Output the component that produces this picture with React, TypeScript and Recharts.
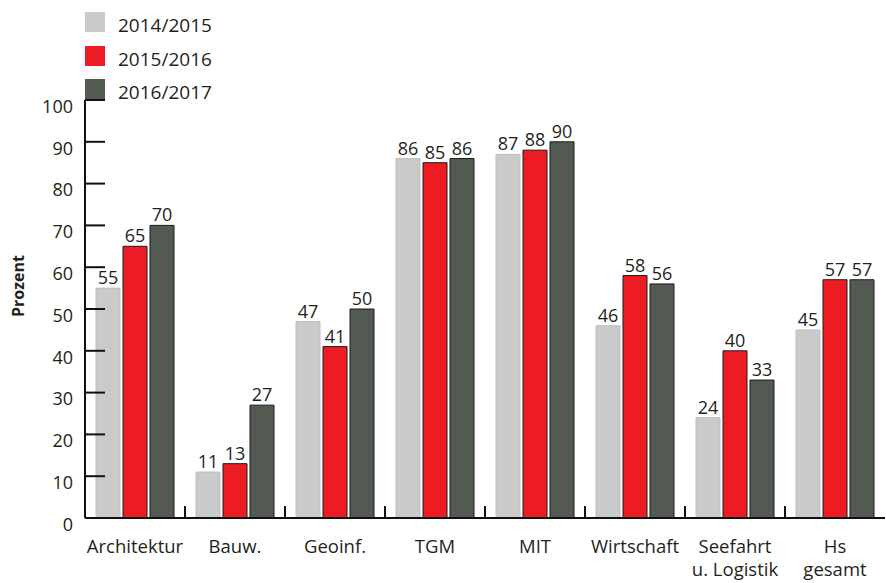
import React from 'react';
import { BarChart, Bar, XAxis, YAxis, LabelList } from 'recharts';

const categories = ['Architektur', 'Bauw.', 'Geoinf.', 'TGM', 'MIT', 'Wirtschaft', 'Seefahrt\nu. Logistik', 'Hs\ngesamt'];
const series1415 = [55, 11, 47, 86, 87, 46, 24, 45];
const series1516 = [65, 13, 41, 85, 88, 58, 40, 57];
const series1617 = [70, 27, 50, 86, 90, 56, 33, 57];
const seriesNames = ['2014/2015', '2015/2016', '2016/2017'];
const yTicks = [0, 10, 20, 30, 40, 50, 60, 70, 80, 90, 100];

const COLORS = ['#c9cac9', '#ed1c24', '#525a52'];
const STROKES = ['#bdbebd', '#1a1a1a', '#1a1a1a'];
const FONT = '"Open Sans", "Noto Sans", sans-serif';
const TEXT = '#231f20';

const data = categories.map((c, i) => ({
  name: c,
  s1: series1415[i],
  s2: series1516[i],
  s3: series1617[i],
}));

const W = 886;
const H = 583;
const M = { top: 100, right: 1, left: 0, bottom: 0 };
const YW = 85;
const XH = 65;
const plotW = W - M.left - M.right - YW;
const band = plotW / categories.length;

const YTick = (props: any) => {
  const { x, y, payload } = props;
  return (
    <g>
      <line x1={x + 12} x2={x + 32} y1={y} y2={y} stroke="#111" strokeWidth={2} />
      <text x={x} y={y + 8} textAnchor="end" dominantBaseline="middle" fontFamily={FONT} fontSize={18} fill={TEXT}>
        {payload.value}
      </text>
    </g>
  );
};

const XTick = (props: any) => {
  const { x, y, payload, index } = props;
  const lines = String(payload.value).split('\n');
  return (
    <g>
      {index < categories.length - 1 && (
        <line x1={x + band / 2} x2={x + band / 2} y1={y} y2={y - 12} stroke="#111" strokeWidth={2} />
      )}
      {lines.map((l, i) => (
        <text key={i} x={x} y={y + 35 + i * 23} textAnchor="middle" fontFamily={FONT} fontSize={18.5} fill={TEXT}>
          {l}
        </text>
      ))}
    </g>
  );
};

const labelStyle = { fontFamily: FONT, fontSize: 18, fill: TEXT };

export default function App() {
  const keys = ['s1', 's2', 's3'];
  return (
    <div style={{ position: 'absolute', left: 0, top: 0, width: W, height: H, background: '#fff' }}>
      <BarChart width={W} height={H} data={data} margin={M} barCategoryGap="11%" barGap={3}>
        <XAxis
          dataKey="name"
          interval={0}
          height={XH}
          tickSize={0}
          tickMargin={0}
          tick={<XTick />}
          axisLine={{ stroke: '#111', strokeWidth: 2 }}
          tickLine={false}
        />
        <YAxis
          width={YW}
          domain={[0, 100]}
          ticks={yTicks}
          interval={0}
          tickSize={0}
          tickMargin={12}
          tick={<YTick />}
          tickLine={false}
          axisLine={{ stroke: '#111', strokeWidth: 2 }}
          label={{
            content: () => (
              <text x={24} y={286} transform="rotate(-90 24 286)" textAnchor="middle" fontFamily={FONT} fontWeight="bold" fontSize={16} fill={TEXT}>
                Prozent
              </text>
            ),
          }}
        />
        {keys.map((k, i) => (
          <Bar key={k} dataKey={k} name={seriesNames[i]} fill={COLORS[i]} stroke={STROKES[i]} strokeWidth={1} isAnimationActive={false}>
            <LabelList dataKey={k} position="top" offset={4} style={labelStyle} />
          </Bar>
        ))}
      </BarChart>
      <div style={{ position: 'absolute', left: 85, top: 12, fontFamily: FONT, fontSize: 19, color: TEXT }}>
        {seriesNames.map((n, i) => (
          <div key={n} style={{ display: 'flex', alignItems: 'center', height: 20, marginBottom: i < 2 ? 13.5 : 0 }}>
            <div style={{ width: 20, height: 20, background: COLORS[i] }} />
            <span style={{ marginLeft: 13, lineHeight: '20px', position: 'relative', top: 3 }}>{n}</span>
          </div>
        ))}
      </div>
    </div>
  );
}
